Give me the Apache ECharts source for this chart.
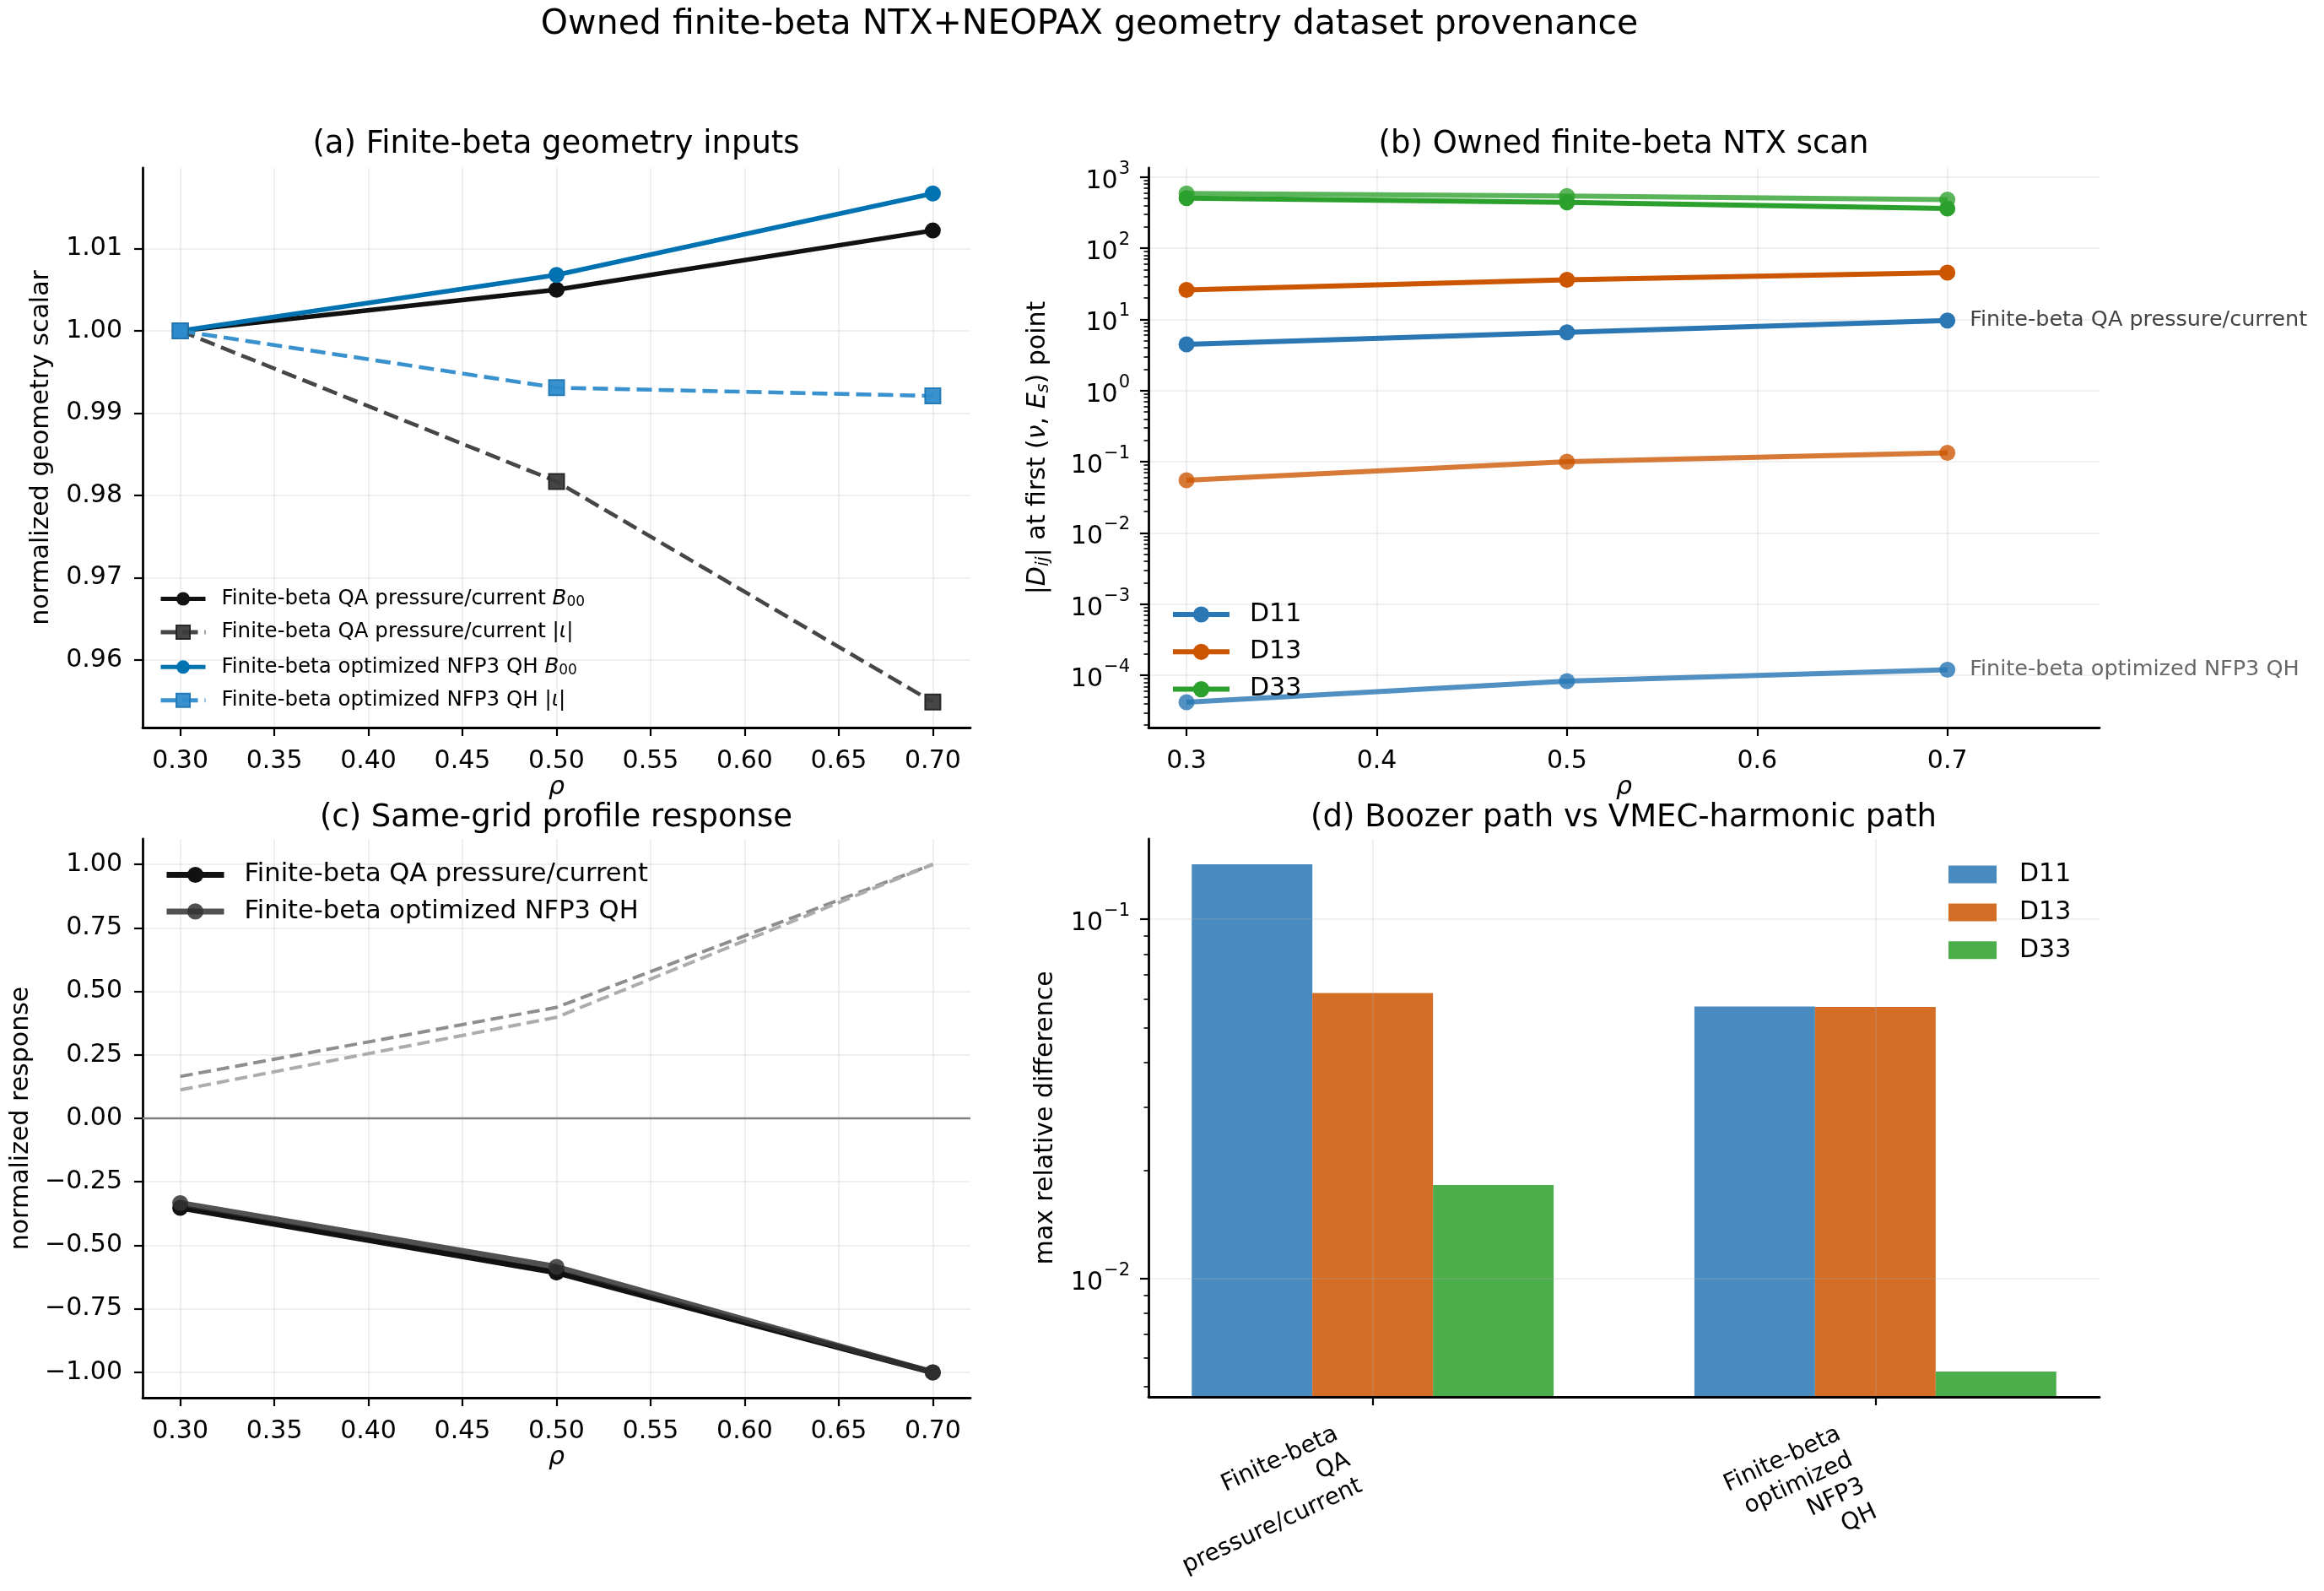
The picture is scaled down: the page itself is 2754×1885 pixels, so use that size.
<!DOCTYPE html>
<html>
<head>
<meta charset="utf-8">
<script src="https://cdn.jsdelivr.net/npm/echarts@6/dist/echarts.min.js"></script>
<style>
  html, body { margin: 0; padding: 0; background: #fff; }
  #chart { width: 2754px; height: 1885px; }
</style>
</head>
<body>
<div id="chart"></div>
<script>
// ---- data ----
const rho = [0.3, 0.5, 0.7];

// (a) normalized geometry scalars
const qaB00 = [1.0, 1.0050, 1.0122];
const qaIota = [1.0, 0.9817, 0.9549];
const qhB00 = [1.0, 1.0068, 1.0167];
const qhIota = [1.0, 0.9931, 0.9921];

// (b) |Dij| at first (nu, Es) point
const qaD11 = [4.47, 6.6, 9.66];
const qaD13 = [26.0, 36.0, 45.5];
const qaD33 = [507, 440, 362];
const qhD11 = [4.2e-5, 8.3e-5, 1.2e-4];
const qhD13 = [0.0552, 0.1005, 0.134];
const qhD33 = [590, 542, 482];

// (c) same-grid profile response
const qaResp = [-0.352, -0.607, -1.0];
const qhResp = [-0.334, -0.585, -1.0];
const qaProfile = [0.165, 0.437, 1.0];
const qhProfile = [0.112, 0.398, 1.0];

// (d) Boozer vs VMEC-harmonic max relative difference
const configs = ['Finite-beta\nQA\npressure/current', 'Finite-beta\noptimized\nNFP3\nQH'];
const relD11 = [0.1423, 0.0572];
const relD13 = [0.0624, 0.0570];
const relD33 = [0.0182, 0.00551];

// tick labels
const rhoTicks = [0.30, 0.35, 0.40, 0.45, 0.50, 0.55, 0.60, 0.65, 0.70];
const rhoTicksB = [0.3, 0.4, 0.5, 0.6, 0.7];
const geomTicks = [0.96, 0.97, 0.98, 0.99, 1.00, 1.01];
const respTicks = [-1.0, -0.75, -0.5, -0.25, 0.0, 0.25, 0.5, 0.75, 1.0];
const dijTicks = [1e-4, 1e-3, 1e-2, 1e-1, 1, 10, 100, 1000];
const relTicks = [0.01, 0.1];
const catTicks = [0, 1];

const FONT = 'DejaVu Sans';
const BLACK = '#000000';
const GRID_COLOR = 'rgba(176,176,176,0.26)';

function minorLogTicks(lo, hi) {
    const out = [];
    for (let k = -6; k <= 4; k++) {
        for (let m = 2; m <= 9; m++) {
            const v = m * Math.pow(10, k);
            if (v >= lo && v <= hi) out.push(v);
        }
    }
    return out;
}
const minus = s => s.replace('-', '\u2212');
const pow10Label = v => {
    const e = Math.round(Math.log10(v));
    return '{b|10}{sup|' + minus(String(e)) + '}';
};
const powRich = {
    b: { fontSize: 30, fontFamily: FONT, color: BLACK, lineHeight: 40, verticalAlign: 'bottom' },
    sup: { fontSize: 21, fontFamily: FONT, color: BLACK, lineHeight: 40, verticalAlign: 'top', padding: [0, 0, 0, 1] }
};

function valueAxis(gridIndex, min, max, ticks, fmt, extra) {
    return Object.assign({
        gridIndex: gridIndex,
        type: 'value',
        min: min,
        max: max,
        axisLine: { show: true, onZero: false, lineStyle: { color: BLACK, width: 2.8 } },
        axisTick: { show: true, inside: false, length: 10, customValues: ticks, lineStyle: { color: BLACK, width: 2.2 } },
        axisLabel: { show: true, customValues: ticks, formatter: fmt, fontSize: 30, color: BLACK, fontFamily: FONT, margin: 24 },
        splitLine: { show: true, lineStyle: { color: GRID_COLOR, width: 1.6 } },
        minorTick: { show: false },
        nameTextStyle: { fontSize: 30, fontFamily: FONT, color: BLACK }
    }, extra || {});
}

function logAxis(gridIndex, min, max, ticks, extra) {
    return Object.assign({
        gridIndex: gridIndex,
        type: 'log',
        logBase: 10,
        min: min,
        max: max,
        axisLine: { show: true, onZero: false, lineStyle: { color: BLACK, width: 2.8 } },
        axisTick: { show: true, inside: false, length: 10, customValues: ticks, lineStyle: { color: BLACK, width: 2.2 } },
        axisLabel: { show: true, customValues: ticks, formatter: pow10Label, rich: powRich, margin: 22 },
        splitLine: { show: true, lineStyle: { color: GRID_COLOR, width: 1.6 } },
        nameTextStyle: { fontSize: 30, fontFamily: FONT, color: BLACK }
    }, extra || {});
}

function minorAxis(gridIndex, min, max) {
    return {
        gridIndex: gridIndex,
        type: 'log',
        logBase: 10,
        min: min,
        max: max,
        position: 'left',
        offset: 0,
        axisLine: { show: false, onZero: false },
        axisTick: { show: true, inside: false, length: 5.5, customValues: minorLogTicks(min, max), lineStyle: { color: BLACK, width: 1.6 } },
        axisLabel: { show: false },
        splitLine: { show: false }
    };
}

const rhoName = { name: 'ρ', nameLocation: 'middle', nameGap: 56,
    nameTextStyle: { fontSize: 30, fontFamily: FONT, color: BLACK, fontStyle: 'italic' } };

function lineSeries(name, x, y, xi, yi, color, opts) {
    const o = opts || {};
    return {
        name: name,
        type: 'line',
        xAxisIndex: xi,
        yAxisIndex: yi,
        data: x.map((v, i) => [v, y[i]]),
        symbol: o.symbol || 'circle',
        symbolSize: o.symbolSize || 19,
        showSymbol: o.showSymbol !== false,
        lineStyle: { color: color, width: o.width || 6, type: o.dash || 'solid', opacity: o.opacity || 1 },
        itemStyle: { color: color, opacity: o.opacity || 1, borderColor: o.border || color, borderWidth: o.borderWidth || 0 },
        z: o.z || 2,
        animation: false
    };
}

// limits (matplotlib 5% margins)
const bMin = 1.85e-5, bMax = 1343;
const dMin = 0.004683, dMax = 0.1674;

const legendRich = {
    t: { fontSize: 24.5, fontFamily: FONT, color: BLACK },
    i: { fontSize: 24.5, fontFamily: FONT, color: BLACK, fontStyle: 'italic' },
    sub: { fontSize: 17, fontFamily: FONT, color: BLACK, verticalAlign: 'bottom', lineHeight: 24, padding: [10, 0, 0, 0] }
};
const aLegendText = {
    'QA B00': '{t|Finite-beta QA pressure/current }{i|B}{sub|00}',
    'QA iota': '{t|Finite-beta QA pressure/current |}{i|ι}{t||}',
    'QH B00': '{t|Finite-beta optimized NFP3 QH }{i|B}{sub|00}',
    'QH iota': '{t|Finite-beta optimized NFP3 QH |}{i|ι}{t||}'
};

const dNames = { 'rel D11': 'D11', 'rel D13': 'D13', 'rel D33': 'D33' };

const C11 = '#2a77b4', C13 = '#cc5500', C33 = '#2ca02c';

const series = [
    // (a)
    lineSeries('QA B00', rho, qaB00, 0, 0, '#111111', { width: 5.5 }),
    lineSeries('QA iota', rho, qaIota, 0, 0, '#3c3c3c', { width: 4.6, dash: [18, 8], symbol: 'rect', symbolSize: 18, border: '#222222', borderWidth: 2, opacity: 0.95 }),
    lineSeries('QH B00', rho, qhB00, 0, 0, '#0072b2', { width: 5.5 }),
    lineSeries('QH iota', rho, qhIota, 0, 0, '#2e8ccb', { width: 4.6, dash: [18, 8], symbol: 'rect', symbolSize: 18, border: '#1f77b4', borderWidth: 2, opacity: 0.95 }),
    // (b)
    lineSeries('D11 QH', rho, qhD11, 1, 1, C11, { opacity: 0.82 }),
    lineSeries('D13 QH', rho, qhD13, 1, 1, C13, { opacity: 0.78 }),
    lineSeries('D33 QH', rho, qhD33, 1, 1, C33, { opacity: 0.78 }),
    lineSeries('D11', rho, qaD11, 1, 1, C11, {}),
    lineSeries('D13', rho, qaD13, 1, 1, C13, {}),
    lineSeries('D33', rho, qaD33, 1, 1, C33, {}),
    // (c)
    lineSeries('QA profile', rho, qaProfile, 2, 3, '#8e8e8e', { showSymbol: false, width: 4, dash: [15, 7] }),
    lineSeries('QH profile', rho, qhProfile, 2, 3, '#acacac', { showSymbol: false, width: 4, dash: [15, 7] }),
    Object.assign(lineSeries('Finite-beta QA pressure/current', rho, qaResp, 2, 3, '#111111', { width: 7 }), {
        markLine: { silent: true, symbol: 'none', label: { show: false }, animation: false,
            lineStyle: { color: '#808080', width: 2.4, type: 'solid' }, data: [{ yAxis: 0 }] }
    }),
    lineSeries('Finite-beta optimized NFP3 QH', rho, qhResp, 2, 3, '#333333', { width: 7, opacity: 0.85 }),
    // (d)
    { name: 'rel D11', type: 'bar', xAxisIndex: 3, yAxisIndex: 4, data: relD11.map((v, i) => [catTicks[i], v]),
      barWidth: '24%', barGap: '0%', itemStyle: { color: C11, opacity: 0.85 }, animation: false, z: 1 },
    { name: 'rel D13', type: 'bar', xAxisIndex: 3, yAxisIndex: 4, data: relD13.map((v, i) => [catTicks[i], v]),
      barWidth: '24%', barGap: '0%', itemStyle: { color: C13, opacity: 0.85 }, animation: false, z: 1 },
    { name: 'rel D33', type: 'bar', xAxisIndex: 3, yAxisIndex: 4, data: relD33.map((v, i) => [catTicks[i], v]),
      barWidth: '24%', barGap: '0%', itemStyle: { color: C33, opacity: 0.85 }, animation: false, z: 1 }
];

// annotate the D11 curves at their last point
function annotate(s, text) {
    s.data = s.data.map((d, i) => i === s.data.length - 1
        ? { value: d, label: { show: true, position: 'right', distance: 17, formatter: text,
              fontSize: 25.5, fontFamily: FONT, color: '#444444' } }
        : d);
}
annotate(series[7], 'Finite-beta QA pressure/current');
annotate(series[4], 'Finite-beta optimized NFP3 QH');

const titleStyle = (fs) => ({ fontSize: fs, fontWeight: 'normal', fontFamily: FONT, color: BLACK, lineHeight: Math.round(fs * 1.2) });

const option = {
    backgroundColor: '#ffffff',
    animation: false,
    textStyle: { fontFamily: FONT },
    title: [
        { text: 'Owned finite-beta NTX+NEOPAX geometry dataset provenance', left: 1291, top: 5, textAlign: 'center', padding: 0, textStyle: titleStyle(41) },
        { text: '(a) Finite-beta geometry inputs', left: 659, top: 149, textAlign: 'center', padding: 0, textStyle: titleStyle(37) },
        { text: '(b) Owned finite-beta NTX scan', left: 1924, top: 149, textAlign: 'center', padding: 0, textStyle: titleStyle(37) },
        { text: '(c) Same-grid profile response', left: 659, top: 947, textAlign: 'center', padding: 0, textStyle: titleStyle(37) },
        { text: '(d) Boozer path vs VMEC-harmonic path', left: 1924, top: 947, textAlign: 'center', padding: 0, textStyle: titleStyle(37) }
    ],
    grid: [
        { left: 169, top: 199, width: 981, height: 663, outerBoundsMode: 'none' },
        { left: 1361, top: 199, width: 1127, height: 663, outerBoundsMode: 'none' },
        { left: 169, top: 994, width: 981, height: 662, outerBoundsMode: 'none' },
        { left: 1361, top: 994, width: 1127, height: 661, outerBoundsMode: 'none' }
    ],
    xAxis: [
        valueAxis(0, 0.28, 0.72, rhoTicks, v => v.toFixed(2), Object.assign({ axisLabel: { customValues: rhoTicks, formatter: v => v.toFixed(2), fontSize: 30, color: BLACK, fontFamily: FONT, margin: 25 } }, rhoName)),
        valueAxis(1, 0.28, 0.78, rhoTicksB, v => v.toFixed(1), Object.assign({ axisLabel: { customValues: rhoTicksB, formatter: v => v.toFixed(1), fontSize: 30, color: BLACK, fontFamily: FONT, margin: 25 } }, rhoName)),
        valueAxis(2, 0.28, 0.72, rhoTicks, v => v.toFixed(2), Object.assign({ axisLabel: { customValues: rhoTicks, formatter: v => v.toFixed(2), fontSize: 30, color: BLACK, fontFamily: FONT, margin: 25 } }, rhoName)),
        valueAxis(3, -0.446, 1.446, catTicks, v => configs[Math.round(v)], {
            z: 3,
            axisLabel: { customValues: catTicks, formatter: v => configs[Math.round(v)], rotate: 25,
                align: 'right', verticalAlign: 'top', padding: [0, 55, 0, 0],
                fontSize: 28, color: BLACK, fontFamily: FONT, margin: 4, lineHeight: 34 }
        })
    ],
    yAxis: [
        valueAxis(0, 0.9518, 1.0198, geomTicks, v => v.toFixed(2), { name: 'normalized geometry scalar', nameLocation: 'middle', nameGap: 105 }),
        logAxis(1, bMin, bMax, dijTicks, {
            name: '|{i|D}{sub|ij}| at first ({i|ν}, {i|E}{sub|s}) point', nameLocation: 'middle', nameGap: 114,
            nameTextStyle: { fontSize: 30, fontFamily: FONT, color: BLACK, rich: {
                i: { fontSize: 30, fontFamily: FONT, fontStyle: 'italic', color: BLACK },
                sub: { fontSize: 21, fontFamily: FONT, fontStyle: 'italic', color: BLACK, verticalAlign: 'bottom', padding: [12, 0, 0, 0] } } }
        }),
        minorAxis(1, bMin, bMax),
        valueAxis(2, -1.1, 1.1, respTicks, v => minus(v.toFixed(2)), { name: 'normalized response', nameLocation: 'middle', nameGap: 129 }),
        logAxis(3, dMin, dMax, relTicks, { name: 'max relative difference', nameLocation: 'middle', nameGap: 107, startValue: dMin, z: 3 }),
        minorAxis(3, dMin, dMax)
    ],
    legend: [
        { data: ['QA B00', 'QA iota', 'QH B00', 'QH iota'], orient: 'vertical', left: 188, top: 695,
          itemWidth: 53, itemHeight: 20, itemGap: 14.4, padding: 0, selectedMode: false,
          lineStyle: { width: 5 },
          formatter: n => aLegendText[n], textStyle: { padding: [0, 0, 0, 14], rich: legendRich } },
        { data: ['D11', 'D13', 'D33'], orient: 'vertical', left: 1387, top: 713,
          itemWidth: 67, itemHeight: 24, itemGap: 14.3, padding: 0, selectedMode: false,
          lineStyle: { width: 6 },
          textStyle: { fontSize: 30, fontFamily: FONT, color: BLACK, padding: [0, 0, 0, 19] } },
        { data: ['Finite-beta QA pressure/current', 'Finite-beta optimized NFP3 QH'], orient: 'vertical', left: 194, top: 1021,
          itemWidth: 68, itemHeight: 24, itemGap: 12.4, padding: 0, selectedMode: false,
          lineStyle: { width: 7 },
          textStyle: { fontSize: 30.5, fontFamily: FONT, color: BLACK, padding: [0, 0, 0, 19] } },
        { data: ['rel D11', 'rel D13', 'rel D33'], orient: 'vertical', left: 2309, top: 1021,
          itemWidth: 57, itemHeight: 21, itemGap: 14.9, padding: 0, selectedMode: false, icon: 'rect',
          formatter: n => dNames[n],
          textStyle: { fontSize: 30, fontFamily: FONT, color: BLACK, padding: [0, 0, 0, 22] } }
    ],
    series: series
};

const chart = echarts.init(document.getElementById('chart'), null, { renderer: 'canvas' });
chart.setOption(option);
window.addEventListener('resize', chart.resize);
</script>
</body>
</html>
